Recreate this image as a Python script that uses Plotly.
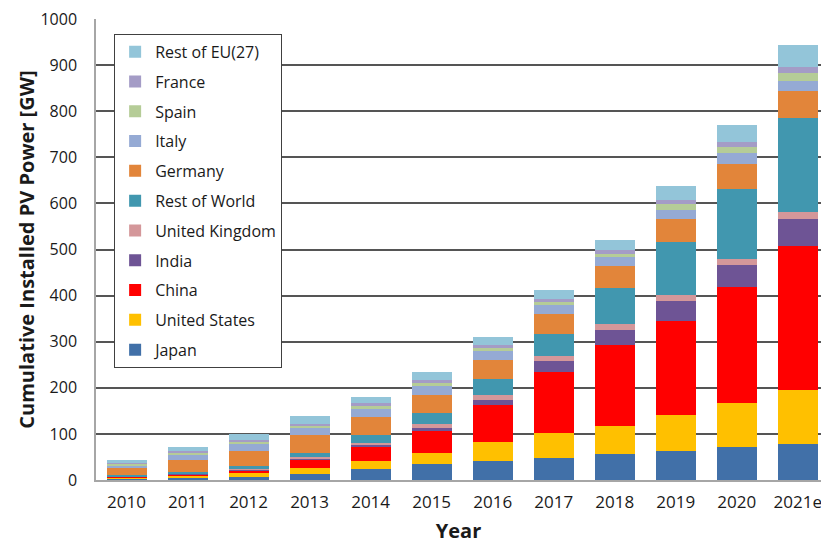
import plotly.graph_objects as go

years = ["2010", "2011", "2012", "2013", "2014", "2015", "2016", "2017", "2018", "2019", "2020", "2021e"]

japan          = [3.6, 5.0, 7.0, 14, 23, 34, 41, 47, 56, 63, 71, 78]
united_states  = [2.5, 4.5, 7.5, 11, 18, 25, 42, 54, 62, 77, 96, 118]
china          = [0.8, 3.5, 7.0, 19, 31, 47, 80, 134, 175, 204, 252, 311]
india          = [0.1, 0.5, 1.2, 2.5, 4, 6, 11, 23, 33, 45, 48, 60]
united_kingdom = [0.1, 1.0, 1.8, 2.5, 5, 9, 11, 12, 13, 13, 12, 15]
rest_of_world  = [3.0, 3.5, 5.5, 9, 17, 24, 35, 47, 78, 115, 153, 203]
germany        = [18, 25, 33, 39, 38, 40, 41, 44, 47, 49, 54, 59]
italy          = [4.0, 13, 15, 17, 18, 19, 19, 19, 20, 19, 24, 22]
spain          = [4.0, 4.0, 5.0, 4.0, 6, 6, 6, 7, 7, 13, 12, 16]
france         = [1.5, 4.0, 4.0, 4.5, 6, 7, 7, 6, 9, 9, 11, 13]
rest_of_eu     = [6.0, 7.0, 12, 16, 14, 17, 17, 20, 20, 31, 38, 49]

series = [
    ("Japan", japan, "#4170A8"),
    ("United States", united_states, "#FFC000"),
    ("China", china, "#FF0000"),
    ("India", india, "#6E5495"),
    ("United Kingdom", united_kingdom, "#D4979A"),
    ("Rest of World", rest_of_world, "#4197AF"),
    ("Germany", germany, "#E2853A"),
    ("Italy", italy, "#95AAD4"),
    ("Spain", spain, "#B5CC97"),
    ("France", france, "#A49CC6"),
    ("Rest of EU(27)", rest_of_eu, "#93C5D9"),
]

fig = go.Figure()
n = len(series)
for i, (name, vals, color) in enumerate(series):
    fig.add_trace(go.Bar(
        x=years, y=vals, name=name, legendgroup=name,
        legendrank=(n - i) * 10,
        marker=dict(color=color, line=dict(width=0)),
    ))

font_family = "Open Sans, Noto Sans, sans-serif"

fig.update_layout(
    width=821, height=544,
    barmode="stack", bargap=0.344,
    plot_bgcolor="white", paper_bgcolor="white",
    margin=dict(l=96, r=0, t=19, b=64),
    font=dict(family=font_family, color="#1a1a1a"),
    showlegend=True,
    legend=dict(
        x=0.025, y=0.968, xanchor="left", yanchor="top",
        traceorder="grouped", tracegroupgap=6,
        bgcolor="white", bordercolor="#404040", borderwidth=1,
        font=dict(size=16, family=font_family, color="#1a1a1a"),
    ),
    xaxis=dict(
        range=[-0.5, 11.38],
        showline=True, linecolor="#a6a6a6", linewidth=1.5,
        tickfont=dict(size=17),
        ticklabelstandoff=6,
        title=dict(text="<b>Year</b>", font=dict(size=20), standoff=15),
    ),
    yaxis=dict(
        range=[0, 1000], dtick=100,
        showgrid=True, gridcolor="#555555", gridwidth=1.5,
        showline=True, linecolor="#a6a6a6", linewidth=1.5,
        zeroline=False,
        tickfont=dict(size=16),
        ticklabelstandoff=14,
        title=dict(text="<b>Cumulative Installed PV Power [GW]</b>", font=dict(size=20), standoff=0),
    ),
)

fig.write_html(
    "out.html",
    config={"displayModeBar": False},
    post_script="document.body.style.margin='0';document.body.style.overflow='hidden';",
)
